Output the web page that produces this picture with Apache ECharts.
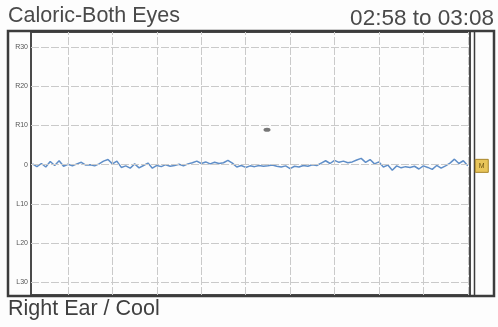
<!DOCTYPE html>
<html><head><meta charset="utf-8">
<script src="https://cdn.jsdelivr.net/npm/echarts@6/dist/echarts.min.js"></script>
<style>html,body{margin:0;padding:0;background:#fdfdfd;}#c{width:498px;height:327px;}</style>
</head><body><div id="c"></div>
<script>
var titleText = 'Caloric-Both Eyes';
var rangeText = '02:58 to 03:08';
var footerText = 'Right Ear / Cool';
var yTickValues = [30, 20, 10, 0, -10, -20, -30];
var yTickLabels = ['R30', 'R20', 'R10', '0', 'L10', 'L20', 'L30'];
var xGridSeconds = [1, 2, 3, 4, 5, 6, 7, 8, 9, 10];
var startTime = 0.2, sampleStep = 0.1;
var trace = [0.2, -0.5, 0.3, -0.6, 0.8, -0.2, 1.0, -0.4, 0.1, -0.3, 0.2,
  0.6, -0.1, 0.0, -0.3, 0.2, 0.9, 1.3, 0.2, 0.9, -0.7,
  -0.3, -0.9, 0.2, -0.8, -0.2, 0.4, -0.9, -0.2, -0.5, 0.0,
  -0.4, -0.2, 0.1, -0.3, 0.2, 0.5, 0.9, 0.3, 0.7, 0.2,
  0.6, 0.3, 0.5, 1.1, 0.4, -0.6, -0.2, -0.7, -0.3, -0.5,
  -0.2, -0.4, -0.3, -0.1, -0.4, -0.6, -0.3, -1.0, -0.4, -0.6,
  -0.2, -0.4, 0.0, -0.2, 0.4, 1.0, 0.3, 1.1, 0.6, 0.9,
  0.5, 0.7, 1.2, 1.6, 0.6, 1.3, 0.2, 0.7, -0.6, -0.1,
  -1.4, -0.3, -0.8, -0.5, -0.7, -0.4, -1.1, -0.3, -0.7, -1.2,
  -0.2, -0.9, -0.3, 0.4, 1.4, 0.3, 1.0, -0.3];
var speck = [[5.48, 8.9]];
var markerLabel = 'M';

var traceData = trace.map(function (v, i) { return [+(startTime + i * sampleStep).toFixed(2), v]; });
var last = traceData[traceData.length - 1];
var FONT = '"Liberation Sans", Arial, sans-serif';
var gridLineStyle = { color: '#cacaca', width: 1, type: [8, 2] };

var ml = [];
xGridSeconds.forEach(function (s) { ml.push({ xAxis: s, label: { show: false } }); });
yTickValues.forEach(function (v, i) {
  ml.push({ yAxis: v, label: { show: true, position: 'start', distance: 3, formatter: yTickLabels[i],
    fontSize: 7, color: '#555', fontFamily: FONT } });
});

var tStyle = { fontSize: 21.5, fontWeight: 'normal', color: '#4a4a4a', fontFamily: FONT };
var chart = echarts.init(document.getElementById('c'), null, { renderer: 'canvas' });
chart.setOption({
  animation: false,
  backgroundColor: '#fdfdfd',
  title: [
    { text: titleText, left: 8, top: 5, padding: 0, textStyle: tStyle },
    { text: rangeText, right: 4, top: 7, padding: 0, textStyle: Object.assign({}, tStyle, { fontSize: 22.5 }) },
    { text: footerText, left: 8, top: 298, padding: 0, textStyle: Object.assign({}, tStyle, { color: '#3f3f3f' }) }
  ],
  grid: { left: 31, right: 28, top: 32, bottom: 32, show: true, borderColor: '#4a4a4a', borderWidth: 2, backgroundColor: 'transparent' },
  xAxis: { type: 'value', min: 0.167, max: 10.05, axisLine: { show: false }, axisTick: { show: false }, axisLabel: { show: false }, splitLine: { show: false } },
  yAxis: { type: 'value', min: -33.2, max: 33.8, axisLine: { show: false }, axisTick: { show: false }, axisLabel: { show: false }, splitLine: { show: false } },
  graphic: [
    { type: 'rect', shape: { x: 8, y: 31, width: 486, height: 265 }, style: { fill: 'none', stroke: '#3c3c3c', lineWidth: 2.5 }, silent: true },
    { type: 'line', shape: { x1: 474.5, y1: 32, x2: 474.5, y2: 295 }, style: { stroke: '#3c3c3c', lineWidth: 1.5 }, silent: true }
  ],
  series: [
    { type: 'line', data: [], silent: true, z: 1,
      markLine: { silent: true, symbol: 'none', animation: false, lineStyle: gridLineStyle, data: ml } },
    { type: 'line', data: traceData, showSymbol: false, symbol: 'none', z: 3,
      lineStyle: { color: '#5f8ec8', width: 1.5 },
      markPoint: { silent: true, animation: false, data: [{ coord: last, symbol: 'rect', symbolSize: [13, 13], symbolOffset: [14, 0],
        itemStyle: { color: '#e8c55a', borderColor: '#a8862a', borderWidth: 1 },
        label: { show: true, formatter: markerLabel, fontSize: 7, color: '#6b5212', fontFamily: FONT } }] } },
    { type: 'scatter', data: speck, symbol: 'circle', symbolSize: [7, 4], itemStyle: { color: '#555' }, z: 4, silent: true }
  ]
});
</script></body></html>
